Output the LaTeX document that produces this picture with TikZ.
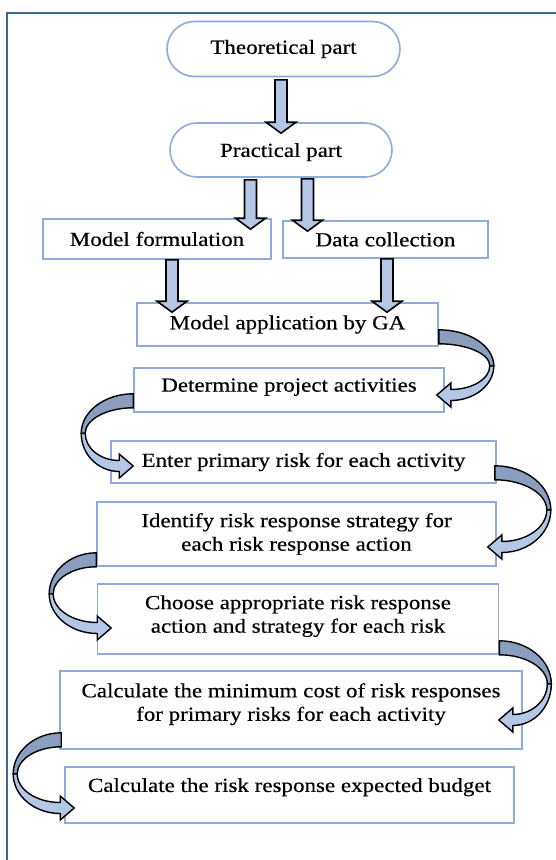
\documentclass[tikz,border=0pt]{standalone}
\usepackage{fontspec}
\setmainfont{Liberation Serif}[FakeStretch=1.15,FakeBold=0.4]
\usetikzlibrary{calc,shapes.misc}
\definecolor{framec}{RGB}{61,102,153}
\definecolor{boxc}{RGB}{143,170,220}
\definecolor{arrl}{RGB}{180,199,231}
\definecolor{arrd}{RGB}{138,158,192}

\newcommand\blockdown[2]{%
  \path[blockarr] ($(#1)+(-6,0)$) -- ($(#1|-#2)+(-6,-11)$) -- ($(#1|-#2)+(-15,-11)$)
    -- (#1|-#2) -- ($(#1|-#2)+(15,-11)$) -- ($(#1|-#2)+(6,-11)$) -- ($(#1)+(6,0)$) -- cycle;}

\newcommand\bentarr[4]{%
  \coordinate (bT1) at ($(#1)+(0,-7)$);
  \coordinate (bT2) at ($(#1)+(0,7)$);
  \coordinate (bM) at ($(#1)!0.5!(#2)$);
  \coordinate (bF) at ($(#1|-bM)+({#3*#4},0)$);
  \coordinate (bFi) at ($(bF)+({-#3*4},0)$);
  \coordinate (bH) at ($(#2)+({#3*14},0)$);
  \coordinate (bHo) at ($(bH)+(0,5.5)$);
  \coordinate (bHi) at ($(bH)+(0,-5.5)$);
  \path[bentdark] (bT1) .. controls ($(bT1)!0.55!(bF|-bT1)$) and ($(bF)!0.55!(bF|-bT1)$) .. (bF)
     -- (bFi) .. controls ($(bFi)!0.55!(bFi|-bT2)$) and ($(bT2)!0.55!(bFi|-bT2)$) .. (bT2) -- cycle;
  \path[bentlight] (bF) .. controls ($(bF)!0.55!(bF|-bHo)$) and ($(bHo)!0.55!(bF|-bHo)$) .. (bHo)
     -- ($(bH)+(0,12)$) -- (#2) -- ($(bH)+(0,-12)$) -- (bHi)
     .. controls ($(bHi)!0.55!(bFi|-bHi)$) and ($(bFi)!0.55!(bFi|-bHi)$) .. (bFi) -- cycle;}

\tikzset{
  box/.style={draw=boxc, line width=1.6pt, fill=white, inner sep=0pt, align=center,
    font=\fontsize{20}{23.5}\selectfont},
  stad/.style={box, rounded rectangle},
  blockarr/.style={fill=arrl, draw=black, line width=1.6pt, line join=miter},
  bentdark/.style={fill=arrd, draw=black, line width=1.4pt},
  bentlight/.style={fill=arrl, draw=black, line width=1.4pt},
}

\begin{document}
\begin{tikzpicture}[x=1pt,y=-1pt]
\useasboundingbox (0,0) rectangle (556,860);
\fill[white] (0,0) rectangle (556,860);
\draw[framec, line width=2.5pt] (7,860) -- (7,13) -- (556,13);

\node[stad, minimum width=233pt, minimum height=55pt] (th) at (283.5,49) {Theoretical part};
\node[stad, minimum width=222pt, minimum height=54pt, text depth=0pt] (pr) at (281,150) {Practical part};
\node[box, minimum width=228pt, minimum height=40pt] (mf) at (157,239) {Model formulation};
\node[box, minimum width=205pt, minimum height=37pt] (dc) at (385.5,239.5) {Data collection};
\node[box, minimum width=301pt, minimum height=43pt] (ma) at (287.5,324.5) {Model application by GA};
\node[box, minimum width=310pt, minimum height=44pt, text depth=10pt] (det) at (289,390) {Determine project activities};
\node[box, minimum width=385pt, minimum height=42pt] (ent) at (303.5,462) {Enter primary risk for each activity};
\node[box, minimum width=399pt, minimum height=64pt] (idf) at (296.5,534) {Identify risk response strategy for\\each risk response action};
\node[box, minimum width=401pt, minimum height=70pt, text depth=10pt] (cho) at (298,619) {Choose appropriate risk response\\action and strategy for each risk};
\node[box, minimum width=462pt, minimum height=78pt, text depth=16pt] (cmin) at (291,710) {Calculate the minimum cost of risk responses\\for primary risks for each activity};
\node[box, minimum width=449pt, minimum height=56pt, text depth=20pt] (bud) at (289.5,795) {Calculate the risk response expected budget};

% straight block arrows
\coordinate (a1s) at ($(th.south)+(-2.5,2.5)$);
\coordinate (a1e) at ($(pr.north)+(0,11)$);
\blockdown{a1s}{a1e}
\coordinate (a2s) at ($(pr.south)+(-30.5,2)$);
\coordinate (a2e) at ($(mf.north)+(0,11)$);
\blockdown{a2s}{a2e}
\coordinate (a3s) at ($(pr.south)+(26.5,1)$);
\coordinate (a3e) at ($(dc.north)+(0,11)$);
\blockdown{a3s}{a3e}
\coordinate (a4s) at ($(mf.south)+(15,0)$);
\coordinate (a4e) at ($(ma.north)+(0,10)$);
\blockdown{a4s}{a4e}
\coordinate (a5s) at ($(dc.south)+(1.5,0)$);
\coordinate (a5e) at ($(ma.north)+(0,10)$);
\blockdown{a5s}{a5e}

% curved block arrows
\coordinate (c1s) at ($(ma.south east)+(0,-10)$);
\coordinate (c1e) at ($(det.east)+(-8,5)$);
\bentarr{c1s}{c1e}{1}{55}
\coordinate (c2s) at ($(det.south west)+(0,-12)$);
\coordinate (c2e) at ($(ent.west)+(23,4)$);
\bentarr{c2s}{c2e}{-1}{52}
\coordinate (c3s) at ($(ent.south east)+(-2,-11)$);
\coordinate (c3e) at ($(idf.east)+(-9,13)$);
\bentarr{c3s}{c3e}{1}{56}
\coordinate (c4s) at ($(idf.south west)+(0,-7)$);
\coordinate (c4e) at ($(cho.west)+(14.5,9)$);
\bentarr{c4s}{c4e}{-1}{47}
\coordinate (c5s) at ($(cho.south east)+(0,-7)$);
\coordinate (c5e) at ($(cmin.east)+(-24,10)$);
\bentarr{c5s}{c5e}{1}{52}
\coordinate (c6s) at ($(cmin.south west)+(2,-10)$);
\coordinate (c6e) at ($(bud.west)+(10,13)$);
\bentarr{c6s}{c6e}{-1}{48}
\end{tikzpicture}
\end{document}
